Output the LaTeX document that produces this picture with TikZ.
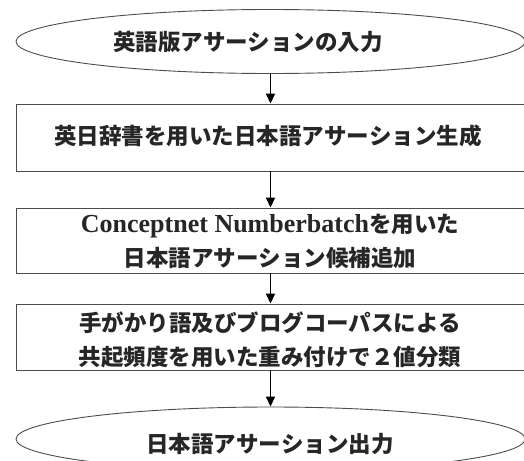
\documentclass[tikz,border=0pt]{standalone}
\usepackage{fontspec}
\setmainfont{Liberation Serif}
\newfontfamily\cjk{Noto Sans CJK JP}
\newfontfamily\latinfont{Liberation Serif}
\usetikzlibrary{shapes.geometric,arrows.meta}
\tikzset{
  shapeline/.style={draw=black!70, line width=0.9pt},
  oval/.style={shapeline, ellipse, minimum width=509pt, minimum height=64pt, inner sep=0pt},
  procbox/.style={shapeline, rectangle, minimum width=512pt, inner sep=0pt},
  label/.style={font=\fontsize{22.5}{34}\selectfont\cjk\bfseries, align=center, inner sep=0pt, text=black!85},
  flow/.style={line width=1.6pt, -{Triangle[length=10pt,width=9pt]}}
}
\begin{document}
\begin{tikzpicture}[x=1pt,y=-1pt]
\useasboundingbox (0,0) rectangle (524,460);
% start / end ovals
\node[oval] (e1) at (270.5,41.5) {};
\node[oval] (e2) at (270.5,439) {};
% process boxes
\node[procbox, minimum height=67pt] (b1) at (272,137.5) {};
\node[procbox, minimum height=65pt] (b2) at (272,240.5) {};
\node[procbox, minimum height=66pt] (b3) at (272,337) {};
% texts
\node[label] (t1) at (248,42) {英語版アサーションの入力};
\node[label] (t2) at (268,136) {英日辞書を用いた日本語アサーション生成};
\node[label] (t3) at (270,241) {{\latinfont\bfseries\fontsize{26}{34}\selectfont Conceptnet Numberbatch}を用いた\\日本語アサーション候補追加};
\node[label] (t4) at (270,339.5) {手がかり語及びブログコーパスによる\\共起頻度を用いた重み付けで２値分類};
\node[label] (t5) at (270,444) {日本語アサーション出力};
% connectors
\draw[flow] (e1.south) -- (e1.south |- b1.north);
\draw[flow] (e1.south |- b1.south) -- (e1.south |- b2.north);
\draw[flow] (e1.south |- b2.south) -- (e1.south |- b3.north);
\draw[flow] (e1.south |- b3.south) -- (e2.north);
\end{tikzpicture}
\end{document}
